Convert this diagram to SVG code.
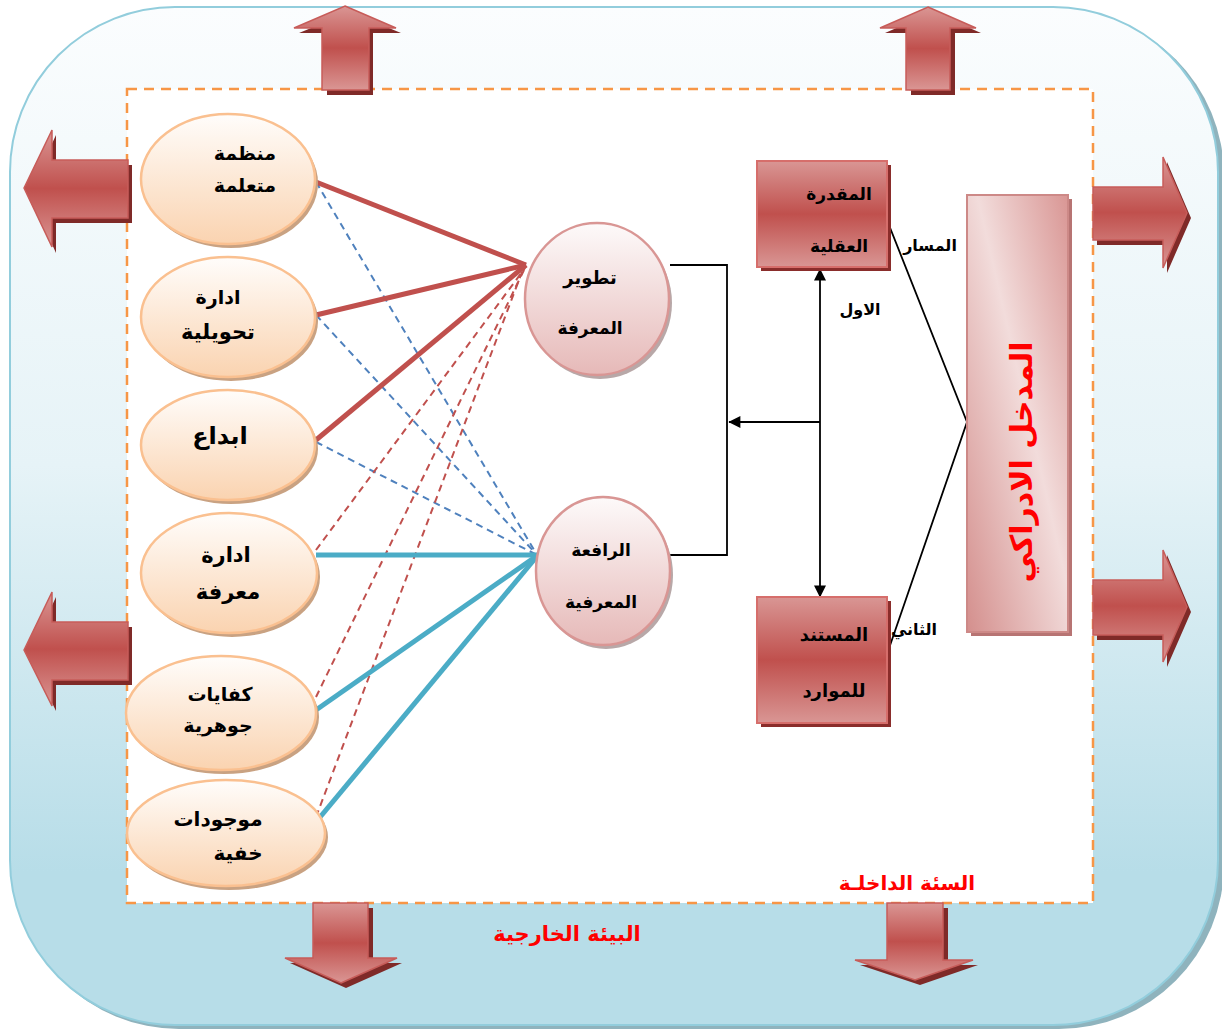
<svg xmlns="http://www.w3.org/2000/svg" width="1222" height="1030" viewBox="0 0 1222 1030">
<defs>
<linearGradient id="gOuter" x1="0" y1="0" x2="0" y2="1">
<stop offset="0" stop-color="#fbfdfe"/>
<stop offset="0.45" stop-color="#e6f3f7"/>
<stop offset="0.85" stop-color="#b7dde8"/>
<stop offset="1" stop-color="#b7dde8"/>
</linearGradient>
<linearGradient id="gArrow" x1="0" y1="0" x2="0" y2="1">
<stop offset="0" stop-color="#da9694"/>
<stop offset="0.5" stop-color="#c0504d"/>
<stop offset="1" stop-color="#da9694"/>
</linearGradient>
<linearGradient id="gEll" x1="0" y1="0" x2="0" y2="1">
<stop offset="0" stop-color="#fffdfb"/>
<stop offset="1" stop-color="#fad3b0"/>
</linearGradient>
<linearGradient id="gCirc" x1="0" y1="0" x2="0" y2="1">
<stop offset="0" stop-color="#fdfafa"/>
<stop offset="1" stop-color="#e6b9b8"/>
</linearGradient>
<linearGradient id="gBox" x1="0" y1="0" x2="0" y2="1">
<stop offset="0" stop-color="#d99694"/>
<stop offset="0.5" stop-color="#c0504d"/>
<stop offset="1" stop-color="#d99694"/>
</linearGradient>
<linearGradient id="gTall" x1="0" y1="1" x2="1" y2="0">
<stop offset="0" stop-color="#d48f8d"/>
<stop offset="0.55" stop-color="#f2dcdb"/>
<stop offset="1" stop-color="#d99694"/>
</linearGradient>
<marker id="ah" viewBox="0 0 10 10" refX="9.5" refY="5" markerWidth="13" markerHeight="12" orient="auto-start-reverse" markerUnits="userSpaceOnUse">
<path d="M0,0 L10,5 L0,10 z" fill="#000"/>
</marker>
<style>
.arr{fill:url(#gArrow);stroke:#c75c59;stroke-width:1.5}
.arrs{fill:#7f2a28}
.ell{fill:url(#gEll);stroke:#fac090;stroke-width:2.5}
.ells{fill:#c9a282}
.circ{fill:url(#gCirc);stroke:#d99694;stroke-width:2.5}
.circs{fill:#b8a8a8}
.box{fill:url(#gBox);stroke:#d66e6b;stroke-width:2}
.boxs{fill:#8a2d2b}
.t{font-family:'DejaVu Sans',sans-serif;font-weight:bold;fill:#000;text-anchor:middle}
.red{fill:#ff0000}
.vt{font-family:'DejaVu Sans',sans-serif;font-weight:bold;fill:#ff0000;text-anchor:middle}
.thr{stroke:#c0504d;stroke-width:5;fill:none}
.thc{stroke:#4bacc6;stroke-width:5;fill:none}
.dr{stroke:#c0504d;stroke-width:2;stroke-dasharray:7 5;fill:none}
.db{stroke:#4f81bd;stroke-width:2;stroke-dasharray:7 5;fill:none}
.blk{stroke:#000;stroke-width:1.8;fill:none}
</style>
</defs>

<g id="outer">
<rect x="14" y="11" width="1210" height="1018" rx="165" fill="#8fb3bd"/>
<rect x="10" y="7" width="1208" height="1018" rx="165" fill="url(#gOuter)" stroke="#92cddc" stroke-width="2"/>
</g>
<g id="inner">
<rect x="127" y="89" width="966" height="814" fill="#fff" stroke="#f79646" stroke-width="2.5" stroke-dasharray="10 7"/>
</g>

<g id="arrows-out">
<g id="arrow-up-1">
<path class="arrs" d="M350,12 L401,33 L373,33 L373,95 L327,95 L327,33 L299,33 Z"/>
<path class="arr" d="M345,6 L396,28 L369,28 L369,90 L322,90 L322,28 L294,28 Z"/>
</g>
<g id="arrow-up-2">
<path class="arrs" d="M933,12 L981,33 L955,33 L955,95 L911,95 L911,33 L885,33 Z"/>
<path class="arr" d="M928,7 L976,28 L950,28 L950,90 L906,90 L906,28 L880,28 Z"/>
</g>
<g id="arrow-left-1">
<path class="arrs" d="M29,193 L56,135 L56,165 L132,165 L132,223 L56,223 L56,253 Z"/>
<path class="arr" d="M24,188 L52,130 L52,160 L128,160 L128,218 L52,218 L52,247 Z"/>
</g>
<g id="arrow-left-2">
<path class="arrs" d="M29,655 L56,597 L56,627 L132,627 L132,685 L56,685 L56,711 Z"/>
<path class="arr" d="M24,650 L52,592 L52,622 L128,622 L128,680 L52,680 L52,706 Z"/>
</g>
<g id="arrow-right-1">
<path class="arrs" d="M1191,218 L1167,273 L1167,245 L1097,245 L1097,192 L1167,192 L1167,162 Z"/>
<path class="arr" d="M1187,213 L1163,268 L1163,240 L1093,240 L1093,187 L1163,187 L1163,157 Z"/>
</g>
<g id="arrow-right-2">
<path class="arrs" d="M1191,612 L1167,667 L1167,640 L1097,640 L1097,585 L1167,585 L1167,555 Z"/>
<path class="arr" d="M1187,607 L1163,662 L1163,635 L1093,635 L1093,580 L1163,580 L1163,550 Z"/>
</g>
<g id="arrow-down-1">
<path class="arrs" d="M346,988 L402,963 L373,963 L373,908 L318,908 L318,963 L290,963 Z"/>
<path class="arr" d="M341,983 L397,958 L368,958 L368,903 L313,903 L313,958 L285,958 Z"/>
</g>
<g id="arrow-down-2">
<path class="arrs" d="M920,985 L978,965 L948,965 L948,908 L892,908 L892,965 L860,965 Z"/>
<path class="arr" d="M915,980 L973,960 L943,960 L943,903 L887,903 L887,960 L855,960 Z"/>
</g>
</g>

<g id="connectors">
<line class="db" x1="316" y1="182" x2="537" y2="555"/>
<line class="db" x1="316" y1="315" x2="537" y2="555"/>
<line class="db" x1="316" y1="442" x2="537" y2="555"/>
<line class="dr" x1="316" y1="550" x2="525" y2="268"/>
<line class="dr" x1="316" y1="697" x2="524" y2="270"/>
<line class="dr" x1="316" y1="817" x2="522" y2="272"/>
<line class="thr" x1="316" y1="182" x2="526" y2="265"/>
<line class="thr" x1="316" y1="315" x2="526" y2="265"/>
<line class="thr" x1="316" y1="440" x2="526" y2="265"/>
<line class="thc" x1="316" y1="555" x2="538" y2="555"/>
<line class="thc" x1="316" y1="710" x2="538" y2="555"/>
<line class="thc" x1="316" y1="822" x2="538" y2="555"/>
<polyline class="blk" points="670,265 727,265 727,555 670,555"/>
<line class="blk" x1="820" y1="422" x2="729" y2="422" marker-end="url(#ah)" stroke-width="2.2"/>
<line class="blk" x1="820" y1="269" x2="820" y2="597" marker-start="url(#ah)" marker-end="url(#ah)" stroke-width="2.4"/>
<polyline class="blk" points="885,215 967,422 885,660" stroke-width="1.5"/>
</g>

<g id="node-e1">
<ellipse class="ells" cx="231" cy="183" rx="87" ry="65"/>
<ellipse class="ell" cx="228" cy="179" rx="87" ry="65"/>
<text class="t" x="245" y="160" font-size="19">منظمة</text>
<text class="t" x="245" y="192" font-size="19">متعلمة</text>
</g>
<g id="node-e2">
<ellipse class="ells" cx="231" cy="321" rx="87" ry="60"/>
<ellipse class="ell" cx="228" cy="317" rx="87" ry="60"/>
<text class="t" x="218" y="304" font-size="19">ادارة</text>
<text class="t" x="218" y="339" font-size="21">تحويلية</text>
</g>
<g id="node-e3">
<ellipse class="ells" cx="231" cy="449" rx="87" ry="55"/>
<ellipse class="ell" cx="228" cy="445" rx="87" ry="55"/>
<text class="t" x="220" y="444" font-size="24">ابداع</text>
</g>
<g id="node-e4">
<ellipse class="ells" cx="232" cy="577" rx="88" ry="60"/>
<ellipse class="ell" cx="229" cy="573" rx="88" ry="60"/>
<text class="t" x="226" y="562" font-size="21">ادارة</text>
<text class="t" x="228" y="599" font-size="21">معرفة</text>
</g>
<g id="node-e5">
<ellipse class="ells" cx="224" cy="717" rx="95" ry="57"/>
<ellipse class="ell" cx="221" cy="713" rx="95" ry="57"/>
<text class="t" x="220" y="701" font-size="19">كفايات</text>
<text class="t" x="218" y="732" font-size="19">جوهرية</text>
</g>
<g id="node-e6">
<ellipse class="ells" cx="229" cy="837" rx="99" ry="53"/>
<ellipse class="ell" cx="226" cy="833" rx="99" ry="53"/>
<text class="t" x="218" y="826" font-size="20">موجودات</text>
<text class="t" x="238" y="860" font-size="20">خفية</text>
</g>

<g id="node-c1">
<ellipse class="circs" cx="600" cy="303" rx="72" ry="76"/>
<ellipse class="circ" cx="597" cy="299" rx="72" ry="76"/>
<text class="t" x="590" y="284" font-size="18">تطوير</text>
<text class="t" x="590" y="334" font-size="17">المعرفة</text>
</g>
<g id="node-c2">
<ellipse class="circs" cx="606" cy="575" rx="67" ry="74"/>
<ellipse class="circ" cx="603" cy="571" rx="67" ry="74"/>
<text class="t" x="601" y="556" font-size="17">الرافعة</text>
<text class="t" x="601" y="608" font-size="17">المعرفية</text>
</g>

<g id="node-b1">
<rect class="boxs" x="761" y="165" width="130" height="106"/>
<rect class="box" x="757" y="161" width="130" height="106"/>
<text class="t" x="839" y="200" font-size="17">المقدرة</text>
<text class="t" x="839" y="252" font-size="17">العقلية</text>
</g>
<g id="node-b2">
<rect class="boxs" x="761" y="601" width="130" height="126"/>
<rect class="box" x="757" y="597" width="130" height="126"/>
<text class="t" x="834" y="641" font-size="18">المستند</text>
<text class="t" x="834" y="697" font-size="18">للموارد</text>
</g>

<g id="node-tall">
<rect x="971" y="199" width="101" height="437" fill="#b77473"/>
<rect x="967" y="195" width="101" height="437" fill="url(#gTall)" stroke="#cd8987" stroke-width="2"/>
<text class="vt" transform="translate(1022,462) rotate(-90)" x="0" y="10" font-size="30">المدخل الادراكي</text>
</g>

<g id="labels">
<text class="t" x="930" y="251" font-size="16">المسار</text>
<text class="t" x="860" y="315" font-size="16">الاول</text>
<text class="t" x="914" y="635" font-size="16">الثاني</text>
<text class="t red" x="907" y="890" font-size="20">السئة الداخلـة</text>
<text class="t red" x="567" y="941" font-size="21">البيئة الخارجية</text>
</g>
</svg>
